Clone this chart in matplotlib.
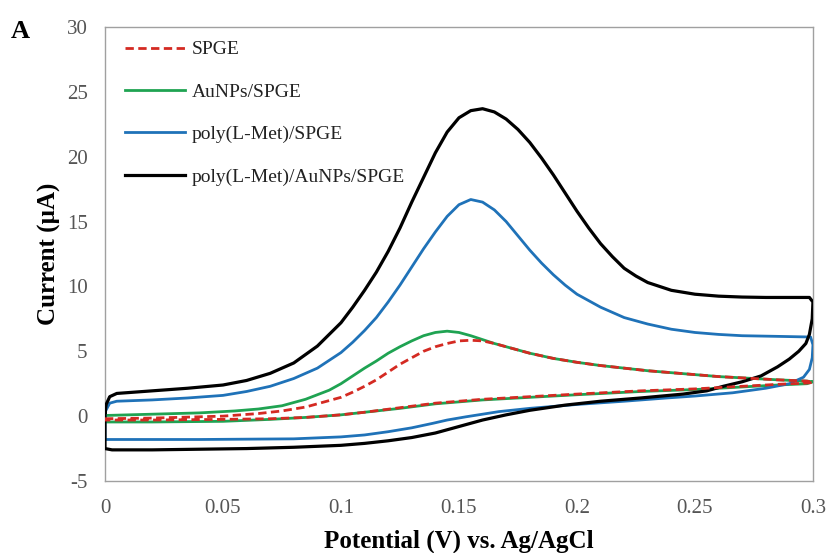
import matplotlib
matplotlib.use("Agg")
import matplotlib.pyplot as plt

# CV loops: forward scan, then reverse scan, closed at x=0
spge_x = [0, 0.02, 0.04, 0.05, 0.065, 0.075, 0.085, 0.095, 0.1, 0.105, 0.11, 0.115, 0.12,
          0.125, 0.13, 0.135, 0.14, 0.145, 0.15, 0.155, 0.16, 0.165, 0.17, 0.175, 0.18, 0.19,
          0.2, 0.21, 0.22, 0.23, 0.24, 0.25, 0.26, 0.27, 0.285, 0.2975, 0.3,
          0.2975, 0.285, 0.27, 0.25, 0.227, 0.2, 0.18, 0.16, 0.14, 0.125, 0.11, 0.1, 0.085,
          0.07, 0.05, 0.02, 0, 0]
spge_y = [-0.2, -0.15, -0.05, 0.0, 0.2, 0.4, 0.7, 1.2, 1.45, 1.85, 2.3, 2.8, 3.4,
          4.0, 4.5, 5.0, 5.35, 5.6, 5.8, 5.85, 5.8, 5.6, 5.35, 5.1, 4.85, 4.45,
          4.15, 3.9, 3.7, 3.5, 3.35, 3.2, 3.05, 2.95, 2.8, 2.7, 2.6,
          2.55, 2.45, 2.3, 2.1, 1.95, 1.7, 1.5, 1.3, 1.0, 0.65, 0.3, 0.1, -0.1,
          -0.2, -0.25, -0.3, -0.3, -0.2]

aunps_x = [0, 0.02, 0.04, 0.055, 0.065, 0.075, 0.085, 0.095, 0.1, 0.105, 0.11, 0.115, 0.12,
           0.125, 0.13, 0.135, 0.14, 0.145, 0.15, 0.155, 0.16, 0.165, 0.17, 0.175, 0.18, 0.19,
           0.2, 0.21, 0.22, 0.23, 0.24, 0.25, 0.26, 0.27, 0.285, 0.2975, 0.3,
           0.2975, 0.285, 0.27, 0.25, 0.227, 0.2, 0.18, 0.16, 0.14, 0.125, 0.11, 0.1, 0.085,
           0.07, 0.05, 0.02, 0, 0]
aunps_y = [0.05, 0.15, 0.25, 0.4, 0.55, 0.8, 1.3, 2.0, 2.5, 3.1, 3.7, 4.25, 4.85,
           5.35, 5.8, 6.2, 6.45, 6.55, 6.45, 6.2, 5.9, 5.6, 5.35, 5.1, 4.85, 4.45,
           4.15, 3.9, 3.7, 3.5, 3.35, 3.2, 3.05, 2.95, 2.8, 2.7, 2.65,
           2.5, 2.4, 2.25, 2.05, 1.9, 1.65, 1.45, 1.25, 0.95, 0.6, 0.3, 0.1, -0.1,
           -0.25, -0.4, -0.45, -0.45, 0.05]

poly_x = [0, 0.002, 0.005, 0.02, 0.035, 0.05, 0.06, 0.07, 0.08, 0.09, 0.1, 0.105, 0.11,
          0.115, 0.12, 0.125, 0.13, 0.135, 0.14, 0.145, 0.15, 0.155, 0.16, 0.165, 0.17,
          0.175, 0.18, 0.185, 0.19, 0.195, 0.2, 0.21, 0.22, 0.23, 0.24, 0.25, 0.26, 0.27,
          0.285, 0.299, 0.3, 0.2997, 0.2985, 0.296, 0.29, 0.28, 0.266, 0.25, 0.238, 0.22,
          0.2, 0.18, 0.167, 0.16, 0.153, 0.145, 0.139, 0.13, 0.12, 0.11, 0.1, 0.08, 0.04,
          0.003, 0, 0]
poly_y = [0.3, 1.0, 1.15, 1.25, 1.4, 1.6, 1.9, 2.3, 2.9, 3.7, 4.9, 5.7, 6.6,
          7.6, 8.8, 10.1, 11.5, 12.9, 14.2, 15.4, 16.3, 16.7, 16.5, 15.9, 15.0,
          13.9, 12.8, 11.8, 10.9, 10.1, 9.4, 8.4, 7.6, 7.1, 6.7, 6.45, 6.3, 6.2,
          6.15, 6.1, 5.5, 4.5, 3.6, 3.0, 2.5, 2.15, 1.8, 1.55, 1.4, 1.15,
          0.9, 0.6, 0.35, 0.15, -0.05, -0.3, -0.55, -0.9, -1.2, -1.45, -1.6, -1.75, -1.8,
          -1.8, -1.8, 0.3]

polyau_x = [0, 0.0005, 0.002, 0.005, 0.02, 0.035, 0.05, 0.06, 0.07, 0.08, 0.09, 0.1, 0.105,
            0.11, 0.115, 0.12, 0.125, 0.13, 0.135, 0.14, 0.145, 0.15, 0.155, 0.16, 0.165,
            0.17, 0.175, 0.18, 0.185, 0.19, 0.195, 0.2, 0.205, 0.21, 0.215, 0.22, 0.225,
            0.23, 0.24, 0.25, 0.26, 0.27, 0.28, 0.2985, 0.3,
            0.2997, 0.2985, 0.297, 0.294, 0.29, 0.285, 0.278, 0.27, 0.262, 0.255, 0.245,
            0.227, 0.21, 0.195, 0.18, 0.17, 0.16, 0.15, 0.14, 0.13, 0.12, 0.11, 0.1, 0.08,
            0.06, 0.04, 0.02, 0.003, 0, 0]
polyau_y = [0.3, 0.9, 1.5, 1.75, 1.95, 2.15, 2.4, 2.75, 3.3, 4.1, 5.4, 7.2, 8.4,
            9.7, 11.1, 12.7, 14.5, 16.5, 18.4, 20.3, 21.9, 23.0, 23.55, 23.7, 23.45,
            22.9, 22.1, 21.1, 19.9, 18.6, 17.2, 15.8, 14.5, 13.3, 12.3, 11.4, 10.8,
            10.3, 9.7, 9.4, 9.25, 9.18, 9.15, 9.15, 8.8,
            7.5, 6.3, 5.6, 5.0, 4.4, 3.8, 3.1, 2.65, 2.3, 1.95, 1.7,
            1.4, 1.15, 0.85, 0.45, 0.1, -0.3, -0.8, -1.3, -1.65, -1.9, -2.1, -2.25, -2.4,
            -2.5, -2.55, -2.6, -2.6, -2.5, 0.3]

x_ticks = [0, 0.05, 0.1, 0.15, 0.2, 0.25, 0.3]
x_labels = ['0', '0.05', '0.1', '0.15', '0.2', '0.25', '0.3']
y_ticks = [-5, 0, 5, 10, 15, 20, 25, 30]

plt.rcParams['font.family'] = ['Liberation Serif', 'DejaVu Serif']
plt.rcParams['axes.unicode_minus'] = False

fig = plt.figure(figsize=(8.28, 5.53), dpi=100)
ax = fig.add_axes([0.1268, 0.1302, 0.855, 0.821])

ax.plot(spge_x, spge_y, color='#d42a22', lw=2.0, ls=(0, (3, 1.6)), label='SPGE', zorder=4)
ax.plot(aunps_x, aunps_y, color='#1fa352', lw=2.0, label='AuNPs/SPGE', zorder=3)
ax.plot(poly_x, poly_y, color='#1f72b8', lw=2.0, label='poly(L-Met)/SPGE', zorder=3)
ax.plot(polyau_x, polyau_y, color='black', lw=2.3, label='poly(L-Met)/AuNPs/SPGE', zorder=3)

ax.set_xlim(0, 0.3)
ax.set_ylim(-5, 30)
ax.set_xticks(x_ticks)
ax.set_xticklabels(x_labels)
ax.set_yticks(y_ticks)
ax.tick_params(length=0, labelsize=15, labelcolor='#555555')
ax.tick_params(axis='y', pad=12.5)
ax.tick_params(axis='x', pad=13)
for s in ax.spines.values():
    s.set_color('#a0a0a0')
    s.set_linewidth(1.0)

ax.set_xlabel('Potential (V) vs. Ag/AgCl', fontsize=18, fontweight='bold', labelpad=8)
ax.set_ylabel('Current (µA)', fontsize=18, fontweight='bold', labelpad=4)

ax.legend(loc='upper left', bbox_to_anchor=(0.003, 1.008), frameon=False, fontsize=14,
          handlelength=3.1, handletextpad=0.35, labelspacing=1.27, labelcolor='#222222')

fig.text(0.0125, 0.932, 'A', fontsize=19, fontweight='bold')

fig.savefig('out.png', dpi=100)
